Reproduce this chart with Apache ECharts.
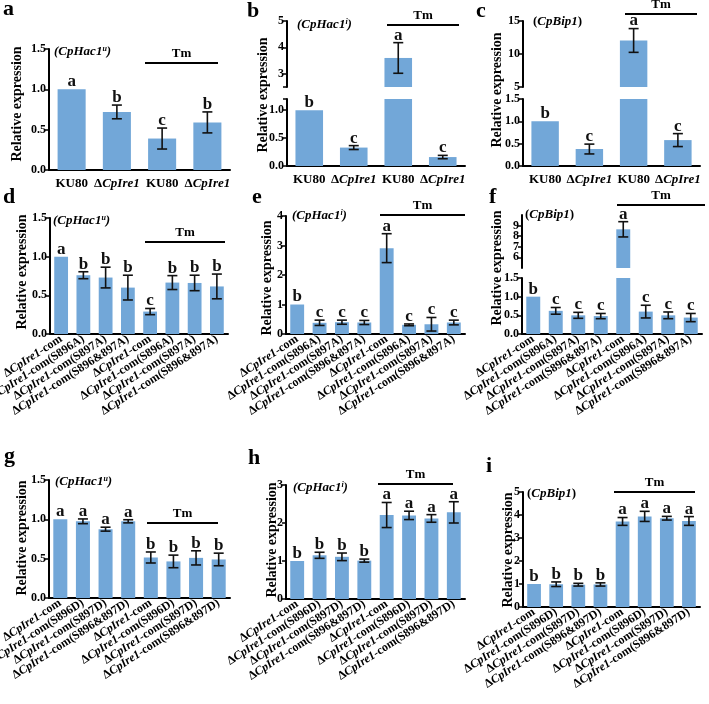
<!DOCTYPE html>
<html>
<head>
<meta charset="utf-8">
<script src="https://cdn.jsdelivr.net/npm/echarts@6/dist/echarts.min.js"></script>
<style>
  html, body { margin: 0; background: #fff; }
  #chart { width: 709px; height: 704px; }
</style>
</head>
<body>
<div id="chart"></div>
<script>
// categories
const wtCats = ['KU80', 'ΔCpIre1', 'KU80', 'ΔCpIre1']
const aCats = [
  'ΔCpIre1-com', 'ΔCpIre1-com(S896A)', 'ΔCpIre1-com(S897A)', 'ΔCpIre1-com(S896&897A)',
  'ΔCpIre1-com', 'ΔCpIre1-com(S896A)', 'ΔCpIre1-com(S897A)', 'ΔCpIre1-com(S896&897A)'
]
const dCats = [
  'ΔCpIre1-com', 'ΔCpIre1-com(S896D)', 'ΔCpIre1-com(S897D)', 'ΔCpIre1-com(S896&897D)',
  'ΔCpIre1-com', 'ΔCpIre1-com(S896D)', 'ΔCpIre1-com(S897D)', 'ΔCpIre1-com(S896&897D)'
]

// panel values (mean, sd, significance letters)
const meanA = [1.0, 0.72, 0.39, 0.59]
const errA = [0, 0.085, 0.13, 0.13]
const letA = ['a', 'b', 'c', 'b']

const meanB = [1.0, 0.33, 3.6, 0.16]
const errB = [0, 0.035, 0.58, 0.03]
const letB = ['b', 'c', 'a', 'c']

const meanC = [1.0, 0.38, 12.05, 0.58]
const errC = [0, 0.11, 1.8, 0.145]
const letC = ['b', 'c', 'a', 'c']

const meanD = [1.0, 0.76, 0.73, 0.6, 0.29, 0.665, 0.66, 0.615]
const errD = [0, 0.045, 0.134, 0.16, 0.04, 0.09, 0.1, 0.16]
const letD = ['a', 'b', 'b', 'b', 'c', 'b', 'b', 'b']

const meanE = [1.0, 0.38, 0.4, 0.39, 2.91, 0.31, 0.33, 0.39]
const errE = [0, 0.09, 0.07, 0.07, 0.49, 0.03, 0.23, 0.08]
const letE = ['b', 'c', 'c', 'c', 'a', 'c', 'c', 'c']

const meanF = [1.0, 0.62, 0.5, 0.48, 8.65, 0.6, 0.5, 0.44]
const errF = [0, 0.09, 0.08, 0.07, 0.72, 0.17, 0.09, 0.11]
const letF = ['b', 'c', 'c', 'c', 'a', 'c', 'c', 'c']

const meanG = [1.0, 0.975, 0.875, 0.975, 0.515, 0.465, 0.51, 0.49]
const errG = [0, 0.03, 0.025, 0.02, 0.07, 0.08, 0.09, 0.08]
const letG = ['a', 'a', 'a', 'a', 'b', 'b', 'b', 'b']

const meanH = [1.0, 1.15, 1.11, 1.01, 2.21, 2.2, 2.12, 2.28]
const errH = [0, 0.08, 0.1, 0.04, 0.33, 0.11, 0.1, 0.28]
const letH = ['b', 'b', 'b', 'b', 'a', 'a', 'a', 'a']

const meanI = [1.0, 0.99, 0.97, 0.98, 3.72, 3.94, 3.86, 3.74]
const errI = [0, 0.1, 0.06, 0.07, 0.17, 0.22, 0.08, 0.19]
const letI = ['b', 'b', 'b', 'b', 'a', 'a', 'a', 'a']

// tick values
const ticksHalf = [0, 0.5, 1, 1.5]
const ticksB = [0, 0.5, 1]
const ticksBUp = [3, 4, 5]
const ticksCUp = [5, 10, 15]
const ticksFUp = [5, 6, 7, 8, 9, 10]
const ticksE = [0, 1, 2, 3, 4]
const ticksH = [0, 1, 2, 3]
const ticksI = [0, 1, 2, 3, 4, 5]

const serif = '"Liberation Serif", "Times New Roman", serif'
const barColor = '#72a7d8'

// layout of each panel; segs[0] is the bottom part, segs[1] the part above an axis break
const panels = [
  { tag: 'a', gene: 'u', cats: wtCats, mean: meanA, err: errA, lets: letA, rot: 0, left: 49, width: 181,
    segs: [{ top: 49, height: 121, min: 0, max: 1.5, ticks: ticksHalf, dec: 1 }],
    tm: [145, 218, 63], title: [17, 104], mark: [3, 20], geneAt: [54, 52] },
  { tag: 'b', gene: 'i', cats: wtCats, mean: meanB, err: errB, lets: letB, rot: 0, left: 287, width: 178,
    segs: [{ top: 99, height: 67, min: 0, max: 1.2, ticks: [0, 0.5, 1, 1.2], labels: ticksB, dec: 1 },
           { top: 21, height: 66, min: 2.5, max: 5, ticks: [2.5, 3, 4, 5], labels: ticksBUp, big: [2] }],
    tm: [387, 459, 25], title: [263, 95], mark: [247, 22], geneAt: [297, 25] },
  { tag: 'c', gene: 'bip', cats: wtCats, mean: meanC, err: errC, lets: letC, rot: 0, left: 523, width: 177,
    segs: [{ top: 99, height: 67, min: 0, max: 1.5, ticks: ticksHalf, dec: 1 },
           { top: 21, height: 66, min: 5, max: 15, ticks: ticksCUp, big: [2] }],
    tm: [625, 697, 14], title: [497, 90], mark: [476, 22], geneAt: [533, 22] },
  { tag: 'd', gene: 'u', cats: aCats, mean: meanD, err: errD, lets: letD, rot: 33, left: 50, width: 178,
    segs: [{ top: 218, height: 116, min: 0, max: 1.5, ticks: ticksHalf, dec: 1 }],
    tm: [145, 225, 242], title: [22, 272], mark: [3, 208], geneAt: [53, 221] },
  { tag: 'e', gene: 'i', cats: aCats, mean: meanE, err: errE, lets: letE, rot: 33, left: 286, width: 179,
    segs: [{ top: 216, height: 118, min: 0, max: 4, ticks: ticksE }],
    tm: [380, 465, 215], title: [267, 278], mark: [252, 208], geneAt: [292, 216] },
  { tag: 'f', gene: 'bip', cats: aCats, mean: meanF, err: errF, lets: letF, rot: 33, left: 522, width: 180,
    segs: [{ top: 278, height: 56, min: 0, max: 1.5, ticks: ticksHalf, dec: 1 },
           { top: 215, height: 53, min: 5, max: 10, ticks: ticksFUp, big: [4] }],
    tm: [617, 705, 205], title: [497, 268], mark: [489, 208], geneAt: [525, 215] },
  { tag: 'g', gene: 'u', cats: dCats, mean: meanG, err: errG, lets: letG, rot: 33, left: 49, width: 181,
    segs: [{ top: 480, height: 118, min: 0, max: 1.5, ticks: ticksHalf, dec: 1 }],
    tm: [147, 218, 523], title: [22, 538], mark: [4, 467], geneAt: [55, 482] },
  { tag: 'h', gene: 'i', cats: dCats, mean: meanH, err: errH, lets: letH, rot: 33, left: 286, width: 179,
    segs: [{ top: 485, height: 114, min: 0, max: 3, ticks: ticksH }],
    tm: [378, 453, 484], title: [272, 540], mark: [248, 469], geneAt: [293, 488] },
  { tag: 'i', gene: 'bip', cats: dCats, mean: meanI, err: errI, lets: letI, rot: 33, left: 523, width: 177,
    segs: [{ top: 492, height: 115, min: 0, max: 5, ticks: ticksI }],
    tm: [614, 695, 492], title: [508, 550], mark: [486, 477], geneAt: [527, 494] }
]

const geneText = {
  u: '{t|(CpHac1}{s|u}{t|)}',
  i: '{t|(CpHac1}{s|i}{t|)}',
  bip: '{p|(}{t|CpBip1}{p|)}'
}

function makeErr(lets) {
  return function (params, api) {
    const x = api.value(0)
    const m = api.value(1)
    const e = api.value(2)
    const hi = api.coord([x, m + e])
    const lo = api.coord([x, m - e])
    const w = 5
    const st = { stroke: '#111', lineWidth: 1.6 }
    const kids = []
    if (e > 0) {
      kids.push({ type: 'line', shape: { x1: hi[0], y1: hi[1], x2: lo[0], y2: lo[1] }, style: st })
      kids.push({ type: 'line', shape: { x1: hi[0] - w, y1: hi[1], x2: hi[0] + w, y2: hi[1] }, style: st })
      kids.push({ type: 'line', shape: { x1: lo[0] - w, y1: lo[1], x2: lo[0] + w, y2: lo[1] }, style: st })
    }
    kids.push({
      type: 'text',
      style: {
        text: lets[x], x: hi[0], y: hi[1] + 1, align: 'center', verticalAlign: 'bottom',
        font: 'bold 17px ' + serif, fill: '#111'
      }
    })
    return { type: 'group', children: kids }
  }
}

const grid = []
const xAxis = []
const yAxis = []
const series = []
const graphic = []

panels.forEach(p => {
  const bigUp = p.segs[1] ? p.segs[1].big : []
  p.segs.forEach((s, k) => {
    const gi = grid.length
    const lower = k === 0
    grid.push({ left: p.left, top: s.top, width: p.width, height: s.height, outerBoundsMode: 'none', containLabel: false })
    const fs = p.rot ? 12 : 13
    xAxis.push({
      type: 'category', gridIndex: gi, data: p.cats, show: lower,
      axisLine: { lineStyle: { color: '#000', width: 2 } },
      axisTick: { alignWithLabel: true, length: 4, lineStyle: { color: '#000', width: 1.5 } },
      axisLabel: {
        interval: 0, rotate: p.rot, margin: p.rot ? 4 : 7, color: '#000',
        formatter: v => '{n|' + v.replace('CpIre1', '}{i|CpIre1}{n|') + '}',
        rich: {
          n: { fontFamily: serif, fontWeight: 'bold', fontSize: fs, color: '#000' },
          i: { fontFamily: serif, fontWeight: 'bold', fontStyle: 'italic', fontSize: fs, color: '#000' }
        }
      }
    })
    yAxis.push({
      type: 'value', gridIndex: gi, min: s.min, max: s.max,
      splitLine: { show: false },
      axisLine: { show: true, lineStyle: { color: '#000', width: 2 } },
      axisTick: { show: true, length: 4, customValues: s.ticks, lineStyle: { color: '#000', width: 1.5 } },
      axisLabel: {
        customValues: s.labels || s.ticks, margin: 3, color: '#000',
        fontFamily: serif, fontWeight: 'bold', fontSize: 12,
        formatter: v => s.dec ? v.toFixed(1) : String(v)
      }
    })
    const inSeg = i => (s.big ? s.big.includes(i) : !bigUp.includes(i))
    series.push({
      type: 'bar', xAxisIndex: gi, yAxisIndex: gi, barWidth: '62%', clip: true,
      itemStyle: { color: barColor },
      data: p.mean.map((v, i) => (lower || inSeg(i) ? v : '-'))
    })
    series.push({
      type: 'custom', xAxisIndex: gi, yAxisIndex: gi, clip: false, z: 5,
      renderItem: makeErr(p.lets),
      data: p.mean.map((v, i) => [i, v, p.err[i]]).filter((d, i) => inSeg(i))
    })
  })

  // panel letter
  graphic.push({
    type: 'text', x: p.mark[0], y: p.mark[1],
    style: { text: p.tag, font: 'bold 22px ' + serif, fill: '#000', verticalAlign: 'bottom' }
  })
  // y title
  graphic.push({
    type: 'text', x: p.title[0], y: p.title[1], rotation: Math.PI / 2,
    style: {
      text: 'Relative expression', font: 'bold 14px ' + serif, fill: '#000',
      align: 'center', verticalAlign: 'middle'
    }
  })
  // gene name
  graphic.push({
    type: 'text', x: p.geneAt[0], y: p.geneAt[1],
    style: {
      text: geneText[p.gene], verticalAlign: 'middle',
      rich: {
        t: { fontFamily: serif, fontWeight: 'bold', fontStyle: 'italic', fontSize: 13, color: '#000', lineHeight: 15 },
        p: { fontFamily: serif, fontWeight: 'bold', fontSize: 13, color: '#000', lineHeight: 15 },
        s: { fontFamily: serif, fontWeight: 'bold', fontStyle: 'italic', fontSize: 8, color: '#000', verticalAlign: 'top', lineHeight: 15 }
      }
    }
  })
  // Tm bracket
  graphic.push({
    type: 'line', shape: { x1: p.tm[0], y1: p.tm[2], x2: p.tm[1], y2: p.tm[2] },
    style: { stroke: '#000', lineWidth: 2 }
  })
  graphic.push({
    type: 'text', x: (p.tm[0] + p.tm[1]) / 2, y: p.tm[2] - 3,
    style: { text: 'Tm', font: 'bold 13px ' + serif, fill: '#000', align: 'center', verticalAlign: 'bottom' }
  })
})

const chart = echarts.init(document.getElementById('chart'))
chart.setOption({
  animation: false,
  backgroundColor: '#fff',
  grid, xAxis, yAxis, series, graphic
})
</script>
</body>
</html>
